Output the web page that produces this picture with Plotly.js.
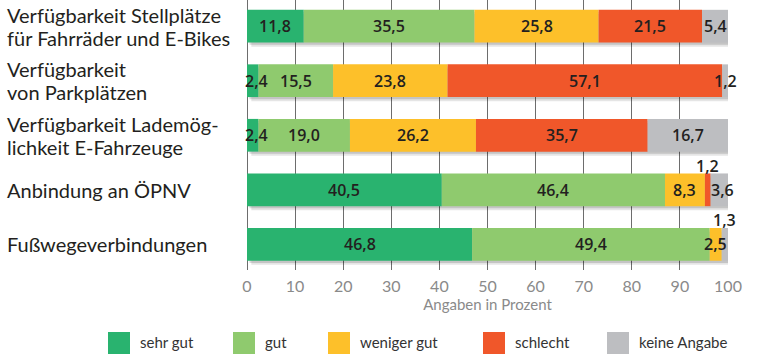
<!DOCTYPE html>
<html>
<head>
<meta charset="utf-8">
<script src="https://cdn.plot.ly/plotly-3.0.1.min.js"></script>
<style>
html,body{margin:0;padding:0;background:#fff;}
#chart{width:775px;height:359px;}
</style>
</head>
<body>
<div id="chart"></div>
<script>
// ---------- data ----------
var categories = [
  "Verfügbarkeit Stellplätze\nfür Fahrräder und E-Bikes",
  "Verfügbarkeit\nvon Parkplätzen",
  "Verfügbarkeit Lademög-\nlichkeit E-Fahrzeuge",
  "Anbindung an ÖPNV",
  "Fußwegeverbindungen"
];
var seriesNames = ["sehr gut", "gut", "weniger gut", "schlecht", "keine Angabe"];
var sehrGut     = [11.8,  2.4,  2.4, 40.5, 46.8];
var gut         = [35.5, 15.5, 19.0, 46.4, 49.4];
var wenigerGut  = [25.8, 23.8, 26.2,  8.3,  2.5];
var schlecht    = [21.5, 57.1, 35.7,  1.2,  0.0];
var keineAngabe = [ 5.4,  1.2, 16.7,  3.6,  1.3];
var xTicks = [0, 10, 20, 30, 40, 50, 60, 70, 80, 90, 100];
var xTitle = "Angaben in Prozent";

// ---------- style ----------
var colors = ["#29b36f", "#8fca6e", "#fdc02a", "#f0572a", "#bdbec1"];
var series = [sehrGut, gut, wenigerGut, schlecht, keineAngabe];
var W = 775, H = 359;
var M = {l: 247, r: 47, t: 0, b: 89};
var plotW = W - M.l - M.r, plotH = H - M.t - M.b;
var rowIdx = categories.map(function(_, i){ return i; });
var barW = 0.6;
var labelFont = "Lato, 'Open Sans', sans-serif";
var numFont = "'Open Sans', sans-serif";

function fmt(v){ return v.toFixed(1).replace('.', ','); }
function px2paperX(px){ return (px - M.l) / plotW; }
function px2paperY(py){ return (H - M.b - py) / plotH; }

// cumulative bases
var bases = [];
var cum = rowIdx.map(function(){ return 0; });
series.forEach(function(s){
  bases.push(cum.slice());
  cum = cum.map(function(c, i){ return c + s[i]; });
});
var totals = cum;

var traces = [];
// soft shadow layers
[[0.9, 0.075, 0.10], [0.5, 0.04, 0.14]].forEach(function(sh){
  traces.push({
    type: 'bar', orientation: 'h', y: rowIdx, x: totals,
    base: rowIdx.map(function(){ return sh[0]; }),
    width: barW, offset: -barW/2 + sh[1],
    marker: {color: 'rgba(0,0,0,' + sh[2] + ')'},
    hoverinfo: 'skip', showlegend: false
  });
});
series.forEach(function(s, k){
  traces.push({
    type: 'bar', orientation: 'h', name: seriesNames[k],
    y: rowIdx, x: s, base: bases[k],
    width: barW, offset: -barW/2,
    marker: {color: colors[k], line: {width: 0}},
    showlegend: false
  });
});

// value annotations
var annotations = [];
series.forEach(function(s, k){
  s.forEach(function(v, i){
    if (v <= 0) return;
    var a = {
      x: bases[k][i] + v/2, y: i, xref: 'x', yref: 'y',
      text: fmt(v), showarrow: false,
      font: {family: numFont, size: 16, color: '#231f20', weight: 600},
      xanchor: 'center', yanchor: 'middle'
    };
    if (v < 2) { a.yshift = 24; }          // very small segment: label above bar
    else if (v < 5 && bases[k][i] === 0) { a.xshift = 4; }
    else if (v < 5 && totals[i] - bases[k][i] - v < 0.01) { a.xshift = 3; }
    // last small segment flush to right edge stays on bar
    if (v < 2 && k === 4 && i === 1) { a.yshift = 0; }
    annotations.push(a);
  });
});

// category labels (left aligned)
categories.forEach(function(c, i){
  var lines = c.split("\n");
  lines.forEach(function(line, j){
    annotations.push({
      x: px2paperX(5), xref: 'paper', y: i, yref: 'y',
      text: line, showarrow: false, xanchor: 'left', yanchor: 'middle',
      yshift: (lines.length - 1) * 11.5 - j * 23,
      font: {family: labelFont, size: 20, color: '#231f20'}
    });
  });
});

// custom legend (large squares)
var legendX = [108, 233, 328, 483, 607];
var shapes = [];
seriesNames.forEach(function(n, k){
  shapes.push({
    type: 'rect', xref: 'paper', yref: 'paper',
    x0: px2paperX(legendX[k]), x1: px2paperX(legendX[k] + 22),
    y0: px2paperY(354), y1: px2paperY(332),
    fillcolor: colors[k], line: {width: 0}
  });
  annotations.push({
    x: px2paperX(legendX[k] + 30), xref: 'paper',
    y: px2paperY(342), yref: 'paper',
    text: n, showarrow: false, xanchor: 'left', yanchor: 'middle',
    font: {family: labelFont, size: 15, color: '#333333'}
  });
});

var layout = {
  width: W, height: H,
  margin: M,
  paper_bgcolor: '#ffffff', plot_bgcolor: '#ffffff',
  barmode: 'overlay',
  showlegend: false,
  xaxis: {
    range: [0, 100], tickvals: xTicks, ticktext: xTicks.map(String),
    showgrid: true, gridcolor: '#6d6d6d', gridwidth: 1,
    zeroline: true, zerolinecolor: '#6d6d6d', zerolinewidth: 1,
    showline: false, ticks: '', ticklabelstandoff: 5,
    tickfont: {family: labelFont, size: 16, color: '#8a8a8a'},
    title: {text: xTitle, standoff: 4, font: {family: labelFont, size: 15, color: '#8a8a8a'}},
    fixedrange: true
  },
  yaxis: {
    range: [4.47, -0.48], showticklabels: false, showgrid: false,
    zeroline: false, showline: false, ticks: '', fixedrange: true
  },
  annotations: annotations,
  shapes: shapes
};

Plotly.newPlot('chart', traces, layout, {displayModeBar: false, staticPlot: true});
</script>
</body>
</html>
